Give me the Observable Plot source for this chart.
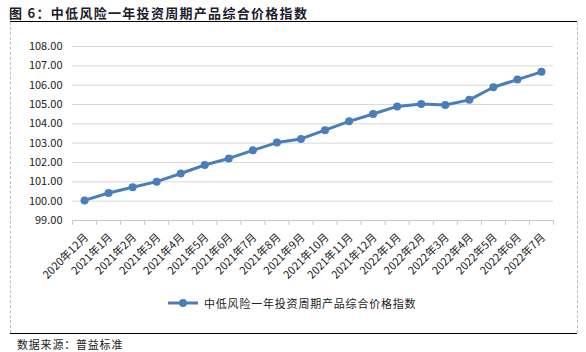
<!DOCTYPE html>
<html><head><meta charset="utf-8">
<script src="https://cdn.jsdelivr.net/npm/d3@7"></script>
<script src="https://cdn.jsdelivr.net/npm/@observablehq/plot@0.6"></script>
<style>
body{margin:0;background:#fff;width:586px;height:352px;position:relative;overflow:hidden;font-family:"Noto Sans CJK SC","Noto Sans",sans-serif;}
#title{position:absolute;left:9px;top:3px;font-size:13px;font-weight:bold;letter-spacing:1.3px;color:#1b1b2b;white-space:nowrap;}
#topline{position:absolute;left:10px;top:21px;width:567px;height:0;border-top:1.5px solid #000;}
#box{position:absolute;left:10px;top:22px;width:566px;height:311px;border-left:1px dashed #bfbfbf;border-right:1px dashed #bfbfbf;}
#bottomline{position:absolute;left:10px;top:333px;width:567px;height:0;border-top:1.5px solid #000;}
#source{position:absolute;left:17px;top:336px;font-size:11px;letter-spacing:0.8px;color:#222;white-space:nowrap;}
#chart{position:absolute;left:0;top:24px;}
#legend{position:absolute;left:166px;top:295px;height:16px;display:flex;align-items:center;font-size:11px;letter-spacing:0.8px;color:#222;white-space:nowrap;}
</style></head>
<body>
<div id="title">图 6：中低风险一年投资周期产品综合价格指数</div>
<div id="topline"></div>
<div id="box"></div>
<div id="chart"></div>
<div id="legend"><svg width="34" height="12" style="margin-right:4px"><line x1="2" y1="6" x2="32" y2="6" stroke="#4a7ebb" stroke-width="3"/><circle cx="17" cy="6" r="4" fill="#4a7ebb"/></svg><span id="legtext"></span></div>
<div id="bottomline"></div>
<div id="source">数据来源：普益标准</div>
<script>
const seriesName = "中低风险一年投资周期产品综合价格指数";
const months = ["2020年12月","2021年1月","2021年2月","2021年3月","2021年4月","2021年5月","2021年6月","2021年7月","2021年8月","2021年9月","2021年10月","2021年11月","2021年12月","2022年1月","2022年2月","2022年3月","2022年4月","2022年5月","2022年6月","2022年7月"];
const values = [100.04,100.42,100.72,101.01,101.43,101.87,102.21,102.63,103.03,103.22,103.67,104.13,104.51,104.90,105.02,104.97,105.24,105.89,106.29,106.69];
const yTicks = [99,100,101,102,103,104,105,106,107,108];
const gridTicks = [100,101,102,103,104,105,106,107,108];

document.getElementById("legtext").textContent = seriesName;

const data = months.map((m, i) => ({i, month: m, value: values[i]}));
const idx = months.map((m, i) => i);
const edges = months.map((m, i) => i - 0.5).concat([months.length - 0.5]);
const color = "#4a7ebb";

const chart = Plot.plot({
  width: 586,
  height: 260,
  marginTop: 22,
  marginBottom: 64,
  marginLeft: 72,
  marginRight: 33,
  style: {fontFamily: '"Noto Sans CJK SC","Noto Sans",sans-serif', fontSize: "11px", color: "#222", background: "transparent"},
  x: {type: "linear", domain: [-0.5, months.length - 0.5], axis: null, label: null},
  y: {domain: [99, 108], axis: null, label: null},
  marks: [
    Plot.ruleY(gridTicks, {stroke: "#d9d9d9", strokeWidth: 1}),
    Plot.ruleY([99], {stroke: "#c8c8c8", strokeWidth: 1}),
    Plot.axisY({ticks: yTicks, tickSize: 0, tickPadding: 10, tickFormat: d => d.toFixed(2), fontSize: 11, fill: "#222", label: null}),
    Plot.axisX({ticks: edges, tickSize: 5, tickFormat: () => "", stroke: "#c8c8c8", label: null}),
    Plot.axisX({ticks: idx, tickSize: 0, tickPadding: 15, tickRotate: -45, tickFormat: i => months[i], fontSize: 11, fill: "#222", dx: 2, label: null}),
    Plot.line(data, {x: "i", y: "value", stroke: color, strokeWidth: 3}),
    Plot.dot(data, {x: "i", y: "value", r: 4, fill: color})
  ]
});
document.getElementById("chart").appendChild(chart);
</script>
</body></html>
